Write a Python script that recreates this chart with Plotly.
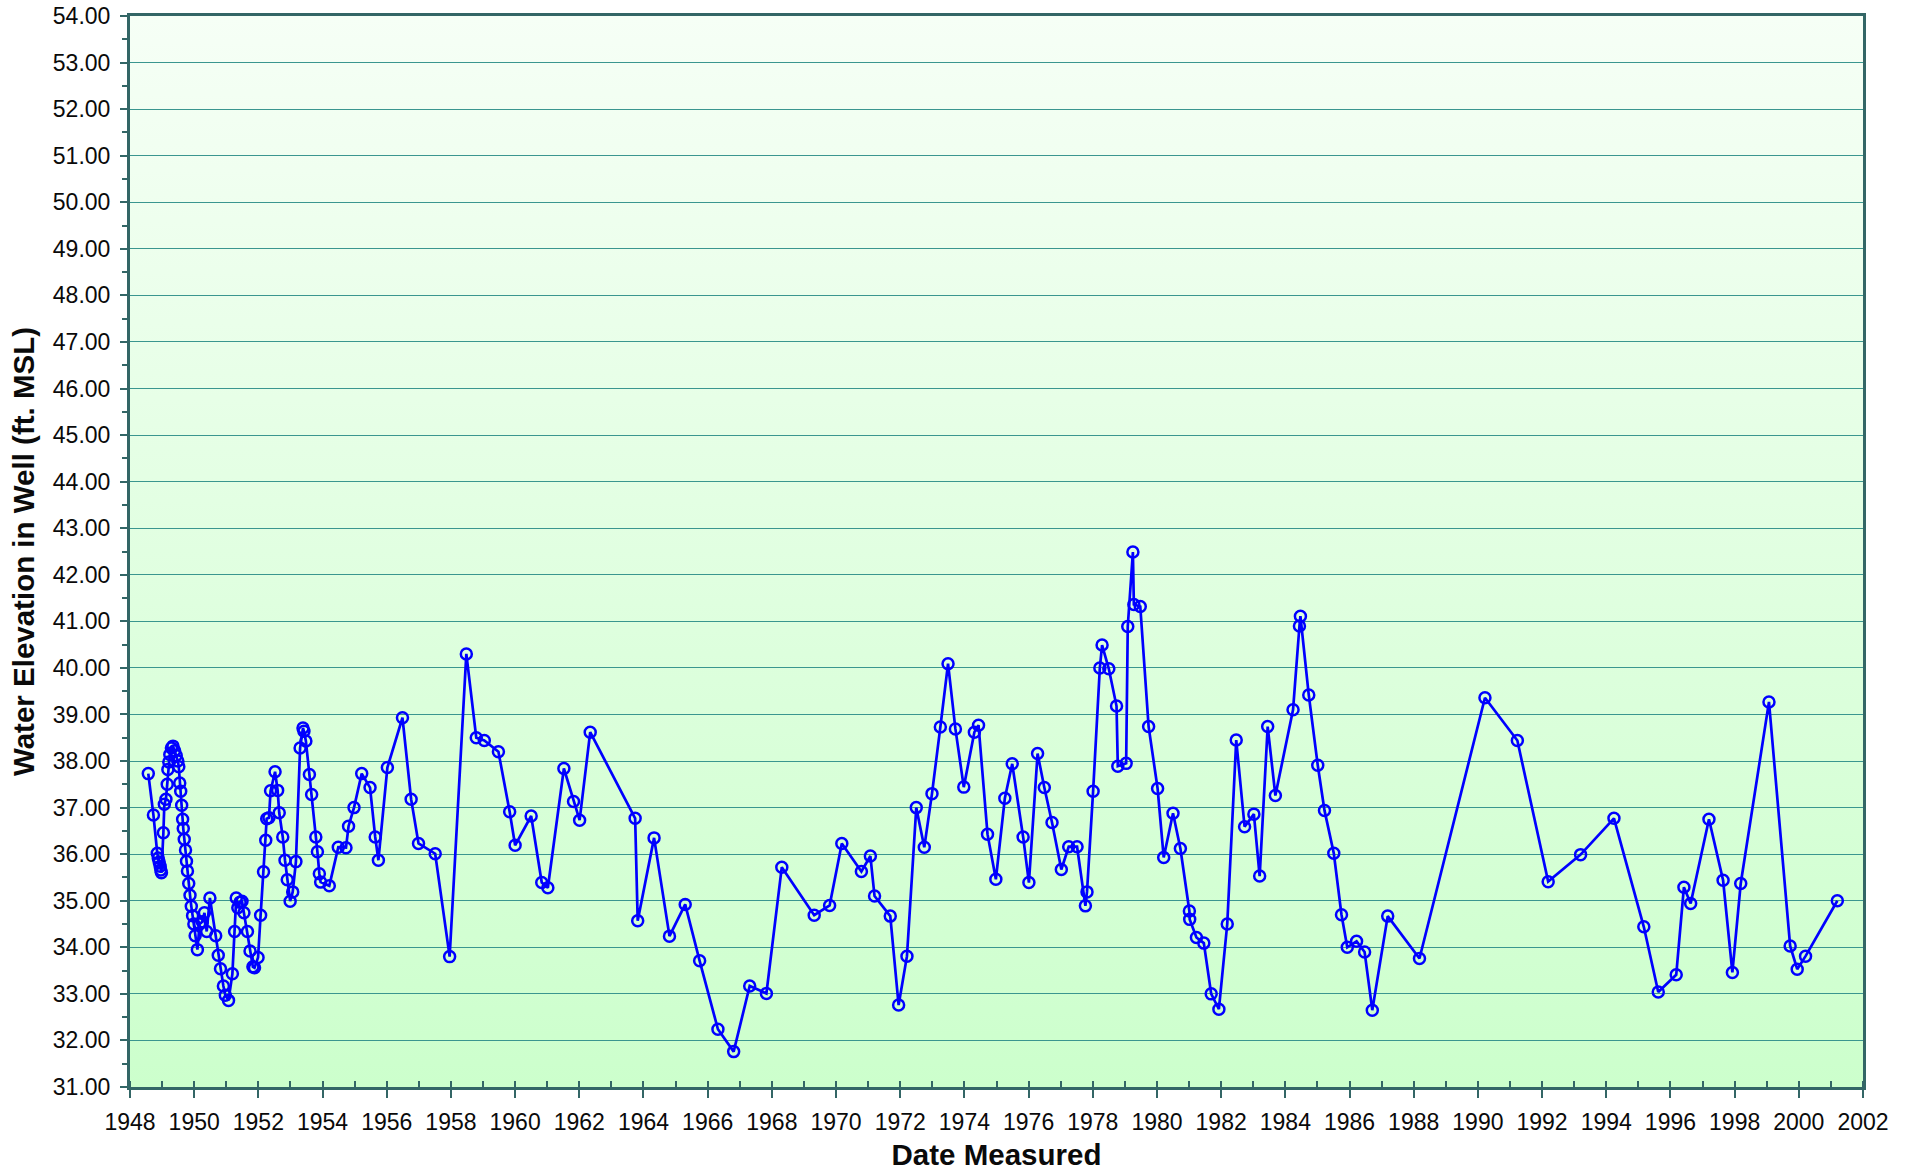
import base64
import plotly.graph_objects as go

# Date measured (decimal years) and water elevation (ft. MSL)
years = [
    1948.57, 1948.73, 1948.85, 1948.88, 1948.91, 1948.94, 1948.96, 1948.98,
    1949.04, 1949.07, 1949.12, 1949.16, 1949.18, 1949.21, 1949.24, 1949.29,
    1949.34, 1949.39, 1949.44, 1949.49, 1949.52, 1949.55, 1949.58, 1949.61,
    1949.64, 1949.66, 1949.69, 1949.73, 1949.76, 1949.79, 1949.83, 1949.87,
    1949.91, 1949.95, 1949.99, 1950.03, 1950.10, 1950.17, 1950.25, 1950.32,
    1950.39, 1950.49, 1950.67, 1950.75, 1950.82, 1950.91, 1950.97, 1951.07,
    1951.19, 1951.26, 1951.31, 1951.36, 1951.43, 1951.49, 1951.55, 1951.66,
    1951.74, 1951.83, 1951.88, 1951.99, 1952.07, 1952.16, 1952.23, 1952.26,
    1952.33, 1952.38, 1952.52, 1952.60, 1952.65, 1952.76, 1952.83, 1952.90,
    1952.99, 1953.07, 1953.17, 1953.30, 1953.39, 1953.42, 1953.48, 1953.59,
    1953.66, 1953.79, 1953.84, 1953.90, 1953.94, 1954.21, 1954.49, 1954.73,
    1954.81, 1954.98, 1955.22, 1955.48, 1955.64, 1955.74, 1956.02, 1956.49,
    1956.76, 1956.99, 1957.51, 1957.96, 1958.48, 1958.79, 1959.04, 1959.48,
    1959.83, 1960.00, 1960.50, 1960.83, 1961.02, 1961.52, 1961.82, 1962.01,
    1962.34, 1963.74, 1963.82, 1964.33, 1964.81, 1965.30, 1965.75, 1966.32,
    1966.81, 1967.31, 1967.83, 1968.31, 1969.32, 1969.80, 1970.18, 1970.79,
    1971.07, 1971.20, 1971.69, 1971.95, 1972.21, 1972.50, 1972.75, 1972.99,
    1973.25, 1973.49, 1973.72, 1973.98, 1974.31, 1974.44, 1974.72, 1974.98,
    1975.26, 1975.49, 1975.83, 1976.01, 1976.28, 1976.49, 1976.73, 1977.02,
    1977.25, 1977.51, 1977.77, 1977.82, 1978.01, 1978.22, 1978.29, 1978.50,
    1978.74, 1978.78, 1979.04, 1979.09, 1979.25, 1979.28, 1979.48, 1979.74,
    1980.02, 1980.21, 1980.50, 1980.73, 1981.01, 1981.02, 1981.23, 1981.46,
    1981.69, 1981.93, 1982.19, 1982.47, 1982.73, 1983.02, 1983.20, 1983.45,
    1983.69, 1984.24, 1984.44, 1984.47, 1984.73, 1985.01, 1985.22, 1985.51,
    1985.75, 1985.93, 1986.22, 1986.47, 1986.71, 1987.19, 1988.18, 1990.22,
    1991.23, 1992.19, 1993.20, 1994.24, 1995.17, 1995.62, 1996.18, 1996.42,
    1996.63, 1997.20, 1997.64, 1997.93, 1998.19, 1999.07, 1999.73, 1999.95,
    2000.21, 2001.20,
]
elevations = [
    37.73, 36.84, 36.02, 35.92, 35.83, 35.74, 35.66, 35.60,
    36.46, 37.07, 37.18, 37.50, 37.82, 37.98, 38.14, 38.28,
    38.32, 38.22, 38.12, 38.00, 37.88, 37.53, 37.35, 37.05,
    36.75, 36.55, 36.32, 36.09, 35.85, 35.64, 35.37, 35.12,
    34.88, 34.68, 34.50, 34.25, 33.95, 34.50, 34.55, 34.74,
    34.34, 35.06, 34.25, 33.83, 33.54, 33.17, 32.97, 32.86,
    33.43, 34.34, 35.06, 34.85, 34.97, 34.99, 34.74, 34.34,
    33.92, 33.58, 33.56, 33.78, 34.69, 35.62, 36.30, 36.76,
    36.78, 37.36, 37.77, 37.37, 36.89, 36.37, 35.87, 35.45,
    34.99, 35.19, 35.84, 38.28, 38.71, 38.64, 38.43, 37.71,
    37.28, 36.37, 36.05, 35.58, 35.40, 35.32, 36.15, 36.14,
    36.60, 37.00, 37.73, 37.43, 36.37, 35.87, 37.86, 38.93,
    37.18, 36.23, 36.01, 33.80, 40.30, 38.50, 38.44, 38.20,
    36.91, 36.19, 36.82, 35.39, 35.28, 37.84, 37.13, 36.73,
    38.62, 36.77, 34.57, 36.35, 34.24, 34.92, 33.71, 32.24,
    31.76, 33.17, 33.01, 35.72, 34.69, 34.90, 36.23, 35.63,
    35.96, 35.10, 34.67, 32.76, 33.81, 37.00, 36.15, 37.30,
    38.73, 40.09, 38.69, 37.44, 38.62, 38.77, 36.43, 35.46,
    37.20, 37.94, 36.37, 35.39, 38.16, 37.43, 36.68, 35.67,
    36.16, 36.16, 34.89, 35.19, 37.35, 40.00, 40.49, 39.98,
    39.18, 37.89, 37.95, 40.89, 42.49, 41.36, 41.32, 38.74,
    37.41, 35.93, 36.88, 36.12, 34.78, 34.60, 34.21, 34.09,
    33.00, 32.67, 34.50, 38.45, 36.59, 36.86, 35.53, 38.74,
    37.26, 39.10, 40.90, 41.11, 39.42, 37.91, 36.94, 36.02,
    34.70, 34.00, 34.13, 33.90, 32.65, 34.67, 33.76, 39.36,
    38.44, 35.41, 35.99, 36.77, 34.44, 33.04, 33.41, 35.29,
    34.94, 36.75, 35.44, 33.46, 35.37, 39.27, 34.03, 33.53,
    33.81, 35.00,
]

x_title = "Date Measured"
y_title = "Water Elevation in Well (ft. MSL)"

FONT = "Arial, 'Liberation Sans', sans-serif"
AXIS_COLOR = "#336666"
TEXT_COLOR = "#0a0a0a"

svg = (
    '<svg xmlns="http://www.w3.org/2000/svg" width="100" height="100" '
    'preserveAspectRatio="none"><defs><linearGradient id="g" x1="0" y1="0" '
    'x2="0" y2="1"><stop offset="0" stop-color="#f6fff6"/>'
    '<stop offset="1" stop-color="#ccffcc"/></linearGradient></defs>'
    '<rect width="100" height="100" fill="url(#g)"/></svg>'
)
bg_src = "data:image/svg+xml;base64," + base64.b64encode(svg.encode()).decode()

fig = go.Figure()
fig.add_trace(go.Scatter(
    x=years, y=elevations, mode="lines+markers",
    line=dict(color="#0000ff", width=2.7),
    marker=dict(symbol="circle-open", size=11, color="#0000ff",
                line=dict(width=2.5, color="#0000ff")),
    showlegend=False, hoverinfo="x+y",
))

fig.update_layout(
    width=1914, height=1171,
    margin=dict(l=130, r=51, t=16, b=84),
    paper_bgcolor="white",
    plot_bgcolor="rgba(0,0,0,0)",
    font=dict(family=FONT, color=TEXT_COLOR, size=23),
    images=[dict(source=bg_src, xref="paper", yref="paper", x=0, y=1,
                 sizex=1, sizey=1, sizing="stretch", layer="below",
                 xanchor="left", yanchor="top")],
)

fig.update_xaxes(
    range=[1948, 2002], tick0=1948, dtick=2, tickformat="d",
    automargin=False,
    showgrid=False, zeroline=False,
    showline=True, linecolor=AXIS_COLOR, linewidth=3, mirror=True,
    ticks="outside", ticklen=8, tickwidth=2, tickcolor=AXIS_COLOR,
    ticklabelstandoff=4,
    tickfont=dict(size=23, family=FONT, color=TEXT_COLOR),
    minor=dict(dtick=1, tick0=1948, ticks="inside", ticklen=6,
               tickwidth=2, tickcolor=AXIS_COLOR, showgrid=False),
    title=dict(text=x_title, standoff=12,
               font=dict(size=29.5, family=FONT, color=TEXT_COLOR, weight="bold")),
)
fig.update_yaxes(
    range=[31, 54], tick0=31, dtick=1, tickformat=".2f",
    automargin=False,
    showgrid=True, gridcolor="#3a968f", gridwidth=1, zeroline=False,
    showline=True, linecolor=AXIS_COLOR, linewidth=3, mirror=True,
    ticks="outside", ticklen=7, tickwidth=2, tickcolor=AXIS_COLOR,
    ticklabelstandoff=5,
    tickfont=dict(size=23, family=FONT, color=TEXT_COLOR),
    minor=dict(dtick=0.5, tick0=31, ticks="outside", ticklen=5,
               tickwidth=2, tickcolor=AXIS_COLOR, showgrid=False),
    title=dict(text=y_title, standoff=10,
               font=dict(size=29.5, family=FONT, color=TEXT_COLOR, weight="bold")),
)

fig.write_html(
    "out.html",
    config={"displayModeBar": False},
    post_script="document.body.style.margin='0';document.body.style.overflow='hidden';",
)
